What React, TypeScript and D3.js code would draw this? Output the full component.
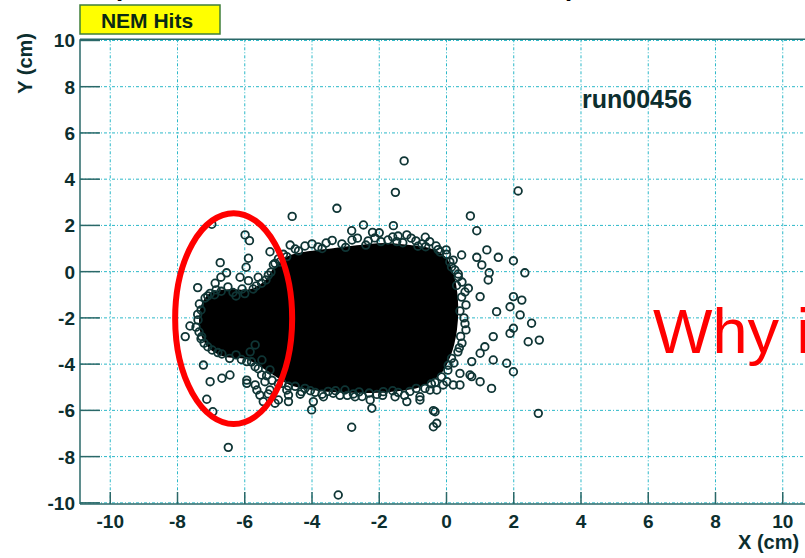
import React from "react";
import * as d3 from "d3";

// Axis ticks (cm)
const xTicks = [-10, -8, -6, -4, -2, 0, 2, 4, 6, 8, 10];
const yTicks = [-10, -8, -6, -4, -2, 0, 2, 4, 6, 8, 10];

// Outline of the saturated hit region (x, y in cm)
const coreOutline: [number, number][] = [
  [-7.33, -2.08], [-7.24, -1.36], [-6.97, -0.92], [-6.44, -0.8], [-5.84, -0.8],
  [-5.4, -0.45], [-5.1, 0.16], [-4.71, 0.63], [-4.06, 0.85], [-3.32, 0.98],
  [-2.57, 1.11], [-1.83, 1.2], [-1.09, 1.11], [-0.43, 0.94], [-0.04, 0.59],
  [0.19, -0.15], [0.31, -1.23], [0.28, -2.53], [0.1, -3.61], [-0.19, -4.39],
  [-0.79, -4.95], [-1.68, -5.16], [-2.72, -5.2], [-3.76, -5.12], [-4.59, -4.9],
  [-5.1, -4.47], [-5.55, -4.04], [-5.99, -3.73], [-6.59, -3.64], [-7.03, -3.3],
  [-7.27, -2.74],
];

// Hits on the rim of the dense region
const edgeHits: [number, number][] = [
  [-4.5, 0.98], [-4.21, 1.11], [-3.82, 1.07], [-3.58, 1.24], [-3.11, 1.2],
  [-2.81, 1.37], [-2.33, 1.33], [-2.13, 1.46], [-1.74, 1.37], [-1.44, 1.54],
  [-0.91, 1.33], [-0.73, 1.2], [-0.31, 1.11], [-0.19, 0.85], [0.1, 0.42],
  [0.25, 0.07], [0.46, -0.45], [0.55, -0.88], [0.58, -1.44], [0.52, -2.0],
  [0.58, -2.52], [0.46, -3.09], [0.34, -3.47], [0.22, -3.95], [0.04, -4.26],
  [-0.34, -4.79], [-0.64, -5.05], [-1.09, -5.18], [-1.44, -5.22], [-2.07, -5.31],
  [-2.51, -5.4], [-3.17, -5.35], [-3.52, -5.18], [-3.91, -5.22], [-4.21, -5.05],
  [-4.5, -4.96], [-4.89, -4.83], [-5.19, -4.7],
  [-7.18, -1.14], [-7.3, -1.66], [-7.39, -2.09], [-7.36, -2.61], [-7.21, -3.09],
  [-6.97, -3.39], [-6.68, -3.56], [-6.26, -3.6], [-5.84, -3.47], [-5.49, -3.82],
  [-5.25, -4.25], [-6.85, -0.79], [-6.5, -0.66], [-6.08, -0.75], [-5.66, -0.62],
  [-5.37, -0.36], [-5.22, -0.02], [-4.95, 0.42], [-6.26, -1.05],
  [-4.85, 0.75], [-4.4, 0.9], [-4.0, 1.2], [-3.7, 1.0], [-3.4, 1.35],
  [-3.0, 1.05], [-2.65, 1.45], [-2.4, 1.15], [-2.2, 1.7], [-1.95, 1.3],
  [-1.6, 1.5], [-1.3, 1.25], [-1.05, 1.45], [-0.85, 1.1], [-0.5, 1.3],
  [-0.25, 0.95], [0.0, 0.75], [0.15, 0.2], [0.35, -0.1], [0.3, -0.6],
  [0.45, -1.1], [0.4, -1.7], [0.55, -2.25], [0.42, -2.8], [0.38, -3.3],
  [0.15, -3.75], [0.05, -4.05], [-0.15, -4.55], [-0.45, -4.85], [-0.9, -5.05],
  [-1.25, -5.35], [-1.6, -5.15], [-1.9, -5.35], [-2.3, -5.25], [-2.6, -5.2],
  [-2.95, -5.35], [-3.3, -5.15], [-3.7, -5.3], [-4.05, -5.15], [-4.35, -5.3],
  [-4.7, -4.95], [-5.0, -4.85], [-5.35, -4.5], [-5.6, -4.2], [-5.8, -3.9],
  [-6.1, -3.8], [-6.45, -3.75], [-6.8, -3.5], [-7.1, -3.25], [-7.3, -2.9],
  [-7.45, -2.4], [-7.4, -1.85], [-7.35, -1.4], [-7.1, -1.05], [-6.9, -1.0],
  [-6.7, -0.85], [-6.35, -0.9], [-6.0, -0.95], [-5.75, -0.75], [-5.5, -0.5],
  [-5.3, -0.15], [-5.15, 0.3], [-5.0, 0.55],
];

// Isolated hits away from the dense region
const outerHits: [number, number][] = [
  [-1.26, 4.79], [-1.52, 3.43], [2.13, 3.49], [-3.26, 2.74], [-4.59, 2.39],
  [0.71, 2.41], [-6.98, 2.05], [-5.99, 1.59], [-5.86, 1.34], [0.9, 1.77],
  [-2.82, 1.77], [-2.47, 2.02], [-1.58, 1.99], [-2.0, 1.68], [-0.63, 1.49],
  [-1.18, 1.59], [-1.48, 1.3], [-0.62, 1.08], [-0.01, 0.94], [0.2, 0.5],
  [0.45, 0.72], [0.9, 0.62], [1.2, 0.94], [1.54, 0.62], [1.99, 0.47],
  [2.33, -0.05], [1.27, -0.05], [1.05, 0.29], [0.35, -0.22], [1.24, -0.36],
  [0.65, -0.72], [1.0, -1.08], [1.99, -1.08], [2.24, -1.23], [1.89, -1.52],
  [1.49, -1.73], [2.19, -1.87], [2.53, -2.23], [2.76, -2.96], [2.43, -3.03],
  [1.99, -2.45], [1.89, -2.67], [1.39, -2.81], [1.14, -3.25], [1.39, -3.82],
  [1.0, -3.53], [0.75, -3.89], [1.79, -3.96], [1.99, -4.33], [1.34, -5.05],
  [1.0, -4.76], [0.75, -4.54], [0.4, -4.4], [0.4, -4.9], [0.01, -4.76],
  [-0.29, -5.12], [-0.39, -6.01], [-0.79, -5.41], [-1.18, -5.62], [-1.53, -5.41],
  [-1.88, -5.19], [-2.27, -5.55], [-2.72, -5.41], [-3.02, -5.12], [-3.37, -5.26],
  [-3.96, -5.62], [-4.01, -5.98], [-3.66, -5.41], [-4.31, -5.19], [-4.7, -5.62],
  [2.73, -6.13], [-2.82, -6.73], [-3.22, -9.66], [-6.49, -7.6], [-0.34, -6.06],
  [-0.29, -6.56], [-0.39, -6.71], [-2.22, -5.91], [-7.13, -5.52], [-6.95, -6.06],
  [-6.44, -4.47], [-6.68, -4.61], [-7.03, -4.76], [-5.55, -5.34], [-5.3, -5.29],
  [-5.69, -4.9], [-5.94, -4.83], [-5.0, -5.55], [-4.7, -5.34], [-2.77, -5.29],
  [-0.79, -5.55], [-0.49, -5.12], [-0.1, -4.9], [0.2, -4.9], [0.7, -4.47],
  [-6.73, 0.39], [-6.54, -0.05], [-6.14, -0.24], [-5.89, -0.39], [-5.6, -0.24],
  [-6.71, -0.24], [-6.88, -0.5], [-7.4, -0.69], [-7.03, -0.94], [-5.96, 0.19],
  [-5.89, 0.58], [-5.25, 0.86], [-4.65, 1.15], [-5.1, 0.36], [-4.75, 0.65],
  [-7.63, -2.35], [-7.77, -2.81], [-7.28, -2.81], [-7.23, -4.04], [-5.94, -3.89],
  [-5.69, -4.11], [-5.69, -3.17], [-5.94, -4.69], [-5.64, -5.12], [-5.4, -4.76],
  [-5.25, -5.12], [-5.1, -5.69], [-4.75, -5.12], [-5.45, -5.62], [-5.5, -4.47],
];

// Highlighted region (cm): centre and half-axes
const ringCenter: [number, number] = [-6.33, -2.03];
const ringRadii: [number, number] = [1.74, 4.56];

const W = 805;
const H = 558;
const FONT = "'Liberation Sans', Arial, Helvetica, sans-serif";
const INK = "#0c2e2e";

export default function App() {
  const x = d3.scaleLinear().domain([-10.9, 10.9]).range([80, 813]);
  const y = d3.scaleLinear().domain([-10.05, 10.05]).range([504, 39.3]);

  const corePath = d3
    .line<[number, number]>()
    .x((d) => x(d[0]))
    .y((d) => y(d[1]))
    .curve(d3.curveCatmullRomClosed.alpha(0.5))(coreOutline) as string;

  const hits = [...edgeHits, ...outerHits];
  const [x0, x1] = [x.range()[0], x.range()[1]];
  const [yb, yt] = [y.range()[0], y.range()[1]];

  return (
    <svg
      width={W}
      height={H}
      viewBox={`0 0 ${W} ${H}`}
      style={{ position: "absolute", left: 0, top: 0, background: "#fff" }}
    >
      <rect x={0} y={0} width={W} height={H} fill="#fff" />

      {/* slide heading, mostly above the canvas */}
      <text x={116} y={-4} fontFamily={FONT} fontWeight="bold" fontSize={26} fill="#000">p</text>
      <text x={562} y={-4} fontFamily={FONT} fontWeight="bold" fontSize={26} fill="#000">(</text>

      {/* grid */}
      <g stroke="#2bb8c8" strokeWidth={1} strokeDasharray="3 2 1 2">
        {xTicks.map((t) => (
          <line key={`gx${t}`} x1={x(t)} x2={x(t)} y1={yt} y2={yb} />
        ))}
        {yTicks.map((t) => (
          <line key={`gy${t}`} x1={x0} x2={x1} y1={y(t)} y2={y(t)} />
        ))}
      </g>

      {/* dense core */}
      <path d={corePath} fill="#000" stroke="#000" strokeWidth={2} />

      {/* individual hits */}
      <g fill="none" stroke="#0f3535" strokeWidth={1.8}>
        {hits.map((d, i) => (
          <circle key={i} cx={x(d[0])} cy={y(d[1])} r={3.8} />
        ))}
      </g>

      {/* frame */}
      <g stroke="#2a6868" strokeWidth={1.5} fill="none">
        <line x1={x0} x2={x1} y1={yt} y2={yt} />
        <line x1={x0} x2={x1} y1={yb} y2={yb} />
        <line x1={x0} x2={x0} y1={yt} y2={yb} />
      </g>

      {/* ticks */}
      <g stroke="#2a6868" strokeWidth={1.5}>
        {xTicks.map((t) => (
          <line key={`tx${t}`} x1={x(t)} x2={x(t)} y1={yb} y2={yb - 12} />
        ))}
        {yTicks.map((t) => (
          <line key={`ty${t}`} x1={x0} x2={x0 + 20} y1={y(t)} y2={y(t)} />
        ))}
      </g>

      {/* tick labels */}
      <g fontFamily={FONT} fontWeight="bold" fontSize={19} fill={INK}>
        {xTicks.map((t) => (
          <text key={`lx${t}`} x={x(t)} y={528} textAnchor="middle">{t}</text>
        ))}
        {yTicks.map((t) => (
          <text key={`ly${t}`} x={75} y={y(t) + 7} textAnchor="end">{t}</text>
        ))}
      </g>

      {/* axis titles */}
      <text x={738} y={549} fontFamily={FONT} fontWeight="bold" fontSize={20} fill={INK}>X (cm)</text>
      <text
        transform="translate(32,33) rotate(-90)"
        textAnchor="end"
        fontFamily={FONT}
        fontWeight="bold"
        fontSize={20}
        fill={INK}
      >
        Y (cm)
      </text>

      {/* histogram title box */}
      <rect x={80} y={5} width={140} height={29} fill="#ffff00" stroke="#3f7f3a" strokeWidth={1.5} />
      <text x={147} y={28} textAnchor="middle" fontFamily={FONT} fontWeight="bold" fontSize={21} fill="#0a2a14">
        NEM Hits
      </text>

      {/* run label */}
      <text x={582} y={108} fontFamily={FONT} fontWeight="bold" fontSize={25} fill={INK}>run00456</text>

      {/* highlighted region */}
      <ellipse
        cx={x(ringCenter[0])}
        cy={y(ringCenter[1])}
        rx={x(ringCenter[0] + ringRadii[0]) - x(ringCenter[0])}
        ry={y(ringCenter[1]) - y(ringCenter[1] + ringRadii[1])}
        fill="none"
        stroke="#ff0000"
        strokeWidth={6}
      />

      <text x={653} y={353} fontFamily={FONT} fontSize={63} fill="#ff0000">Why is</text>
    </svg>
  );
}
